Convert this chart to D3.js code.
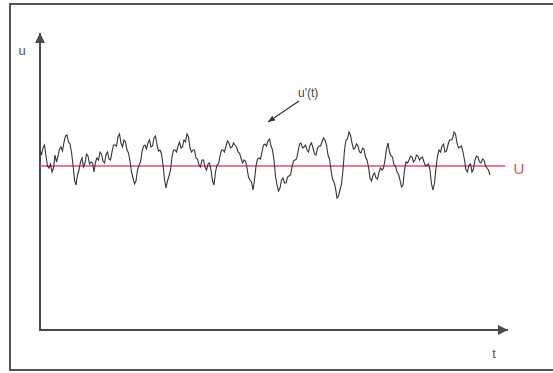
<!DOCTYPE html>
<html>
<head>
<meta charset="utf-8">
<script src="https://cdn.jsdelivr.net/npm/d3@7"></script>
<style>
  html, body { margin: 0; padding: 0; background: #fff; }
  svg { display: block; }
  text { font-family: "Liberation Sans", Arial, sans-serif; }
</style>
</head>
<body>
<svg id="chart" width="553" height="373"></svg>
<script>
// Instantaneous velocity u(t) = U + u'(t), sampled at whole time steps
const uSamples = [
  180,182,174,162,158,175,174,183,188,195,186,165,145,160,172,167,174,168,158,172,
  178,169,175,171,178,185,193,187,190,180,169,152,149,165,178,185,187,183,192,185,
  180,165,142,154,173,180,184,182,190,196,182,180,172,165,170,163,166,160,145,165,
  174,180,184,187,183,185,178,172,170,162,150,140,164,172,178,186,189,184,170,145,
  142,152,147,154,163,170,178,187,183,180,185,182,175,184,188,190,175,160,148,132,
  140,160,190,198,187,182,184,177,181,170,152,155,152,158,160,170,187,174,165,158,
  150,145,168,170,173,170,174,172,168,165,160,140,162,180,184,178,185,190,198,187,
  183,178,160,165,158,170,173,167,170,162,155
];
// Samples taken half a step after each of the above
const uHalfSamples = [
  175,185,164,166,162,168,181,179,194,188,178,150,155,168,163,176,166,167,168,170,
  176,167,178,170,185,184,196,183,188,177,158,146,160,168,184,181,190,184,194,179,
  176,151,149,160,180,178,188,183,188,193,178,180,171,163,170,160,167,149,158,166,
  180,178,189,182,187,183,177,167,169,153,148,150,171,171,185,184,191,180,154,139,
  150,147,153,155,169,171,186,182,185,178,187,176,182,184,192,185,171,151,142,134,
  146,180,191,195,181,186,178,182,173,163,149,157,151,162,162,181,178,173,164,156,
  143,160,167,174,168,175,170,173,164,166,146,147,174,178,186,179,190,191,196,182,
  184,170,158,166,161,174,168,171,164,160
];
// Time-averaged velocity
const meanU = 164;
// Axis and annotation labels
const axisLabels = { y: "u", x: "t" };
const seriesLabel = "u'(t)";
const meanLabel = "U";

// Interleave the two sample sets into one series on a half-step time grid
const series = [];
uSamples.forEach((v, i) => {
  series.push({ t: i, u: v });
  if (i < uHalfSamples.length) series.push({ t: i + 0.5, u: uHalfSamples[i] });
});

const svg = d3.select("#chart");
const axisColor = "#4a4a4a";

// Outer frame
svg.append("path")
  .attr("d", "M553,4 H10 V370 H553")
  .attr("fill", "none")
  .attr("stroke", "#555")
  .attr("stroke-width", 2);

// Scales
const x = d3.scaleLinear().domain([0, 156]).range([40, 508]);
const y = d3.scaleLinear().domain([0, 297]).range([330, 33]);

// Arrowhead markers
const defs = svg.append("defs");
defs.append("marker")
  .attr("id", "arrow")
  .attr("viewBox", "0 0 10 10")
  .attr("refX", 10).attr("refY", 5)
  .attr("markerWidth", 10).attr("markerHeight", 10)
  .attr("markerUnits", "userSpaceOnUse")
  .attr("orient", "auto")
  .append("path").attr("d", "M0,0 L10,5 L0,10 z").attr("fill", axisColor);
defs.append("marker")
  .attr("id", "arrowSmall")
  .attr("viewBox", "0 0 10 10")
  .attr("refX", 10).attr("refY", 5)
  .attr("markerWidth", 7).attr("markerHeight", 7)
  .attr("markerUnits", "userSpaceOnUse")
  .attr("orient", "auto")
  .append("path").attr("d", "M0,1 L10,5 L0,9 z").attr("fill", "#333");

// Axes with arrows
svg.append("line")
  .attr("x1", x(0)).attr("y1", y(0))
  .attr("x2", x(0)).attr("y2", y(297))
  .attr("stroke", axisColor).attr("stroke-width", 2)
  .attr("marker-end", "url(#arrow)");
svg.append("line")
  .attr("x1", x(0) - 1).attr("y1", y(0))
  .attr("x2", x(156)).attr("y2", y(0))
  .attr("stroke", axisColor).attr("stroke-width", 2)
  .attr("marker-end", "url(#arrow)");

svg.append("text").attr("x", 22).attr("y", 55)
  .attr("text-anchor", "middle").attr("font-size", 13).attr("fill", "#555")
  .text(axisLabels.y);
svg.append("text").attr("x", 494).attr("y", 358)
  .attr("text-anchor", "middle").attr("font-size", 13).attr("fill", "#555")
  .text(axisLabels.x);

// Mean velocity line
svg.append("line")
  .attr("x1", x(0)).attr("y1", y(meanU))
  .attr("x2", x(155)).attr("y2", y(meanU))
  .attr("stroke", "#e0506a").attr("stroke-width", 1.6);
svg.append("text").attr("x", 519).attr("y", y(meanU) + 8)
  .attr("text-anchor", "middle").attr("font-size", 15).attr("fill", "#e0506a")
  .text(meanLabel);

// Fluctuating signal
const line = d3.line()
  .x(d => x(d.t))
  .y(d => y(d.u));
svg.append("path")
  .datum(series)
  .attr("d", line)
  .attr("fill", "none")
  .attr("stroke", "#333")
  .attr("stroke-width", 1.1)
  .attr("stroke-linejoin", "miter");

// Annotation pointing at the fluctuation
svg.append("line")
  .attr("x1", 299).attr("y1", 101)
  .attr("x2", 268).attr("y2", 122)
  .attr("stroke", "#333").attr("stroke-width", 1.2)
  .attr("marker-end", "url(#arrowSmall)");
svg.append("text").attr("x", 298).attr("y", 97)
  .attr("font-size", 12).attr("fill", "#444")
  .text(seriesLabel);
</script>
</body>
</html>
